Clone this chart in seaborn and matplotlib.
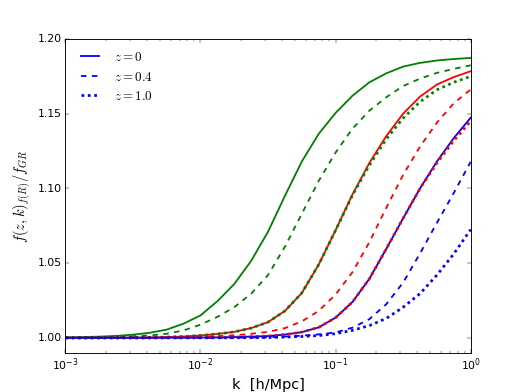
import numpy as np
import pandas as pd
import matplotlib
matplotlib.use("Agg")
import matplotlib.pyplot as plt
import seaborn as sns

plt.style.use("classic")
plt.rcParams['lines.scale_dashes'] = False
plt.rcParams['savefig.facecolor'] = 'white'

# log10 of k [h/Mpc]
logk = [-3.0, -2.875, -2.75, -2.625, -2.5, -2.375, -2.25, -2.125, -2.0,
        -1.875, -1.75, -1.625, -1.5, -1.375, -1.25, -1.125, -1.0,
        -0.875, -0.75, -0.625, -0.5, -0.375, -0.25, -0.125, 0.0]

green_z0 = [1.0003, 1.0005, 1.0008, 1.0013, 1.0021, 1.0034, 1.0055, 1.0095, 1.015,
            1.0245, 1.036, 1.0515, 1.071, 1.095, 1.118, 1.1365, 1.1505,
            1.162, 1.171, 1.177, 1.1815, 1.184, 1.1856, 1.1866, 1.1873]
green_z04 = [1.0001, 1.0002, 1.0004, 1.0007, 1.0011, 1.0016, 1.0027, 1.0050, 1.0088,
             1.014, 1.0205, 1.0295, 1.042, 1.061, 1.083, 1.105, 1.124,
             1.140, 1.152, 1.161, 1.1685, 1.1735, 1.1773, 1.180, 1.1824]
green_z10 = [1.0, 1.0, 1.0001, 1.0001, 1.0002, 1.0003, 1.0005, 1.0009, 1.0016,
             1.0026, 1.0040, 1.0065, 1.0105, 1.018, 1.030, 1.049, 1.072,
             1.0955, 1.1155, 1.133, 1.147, 1.158, 1.166, 1.171, 1.175]

red_z0 = [1.0, 1.0, 1.0001, 1.0001, 1.0002, 1.0003, 1.0005, 1.0009, 1.0016,
          1.0026, 1.0040, 1.0065, 1.0105, 1.018, 1.030, 1.049, 1.072,
          1.096, 1.117, 1.135, 1.150, 1.1614, 1.1695, 1.1745, 1.1784]
red_z04 = [1.0, 1.0, 1.0, 1.0, 1.0001, 1.0001, 1.0003, 1.0005, 1.0007,
           1.0011, 1.0017, 1.0027, 1.0040, 1.0065, 1.011, 1.018, 1.029,
           1.044, 1.064, 1.087, 1.109, 1.128, 1.144, 1.157, 1.1662]
red_z10 = [1.0, 1.0, 1.0, 1.0, 1.0, 1.0, 1.0001, 1.0001, 1.0002,
           1.0003, 1.0005, 1.0008, 1.0012, 1.0022, 1.0038, 1.007, 1.0135,
           1.024, 1.0395, 1.0595, 1.080, 1.100, 1.117, 1.132, 1.145]

blue_z0 = [1.0, 1.0, 1.0, 1.0, 1.0, 1.0, 1.0001, 1.0001, 1.0002,
           1.0003, 1.0005, 1.0008, 1.0012, 1.0022, 1.0038, 1.007, 1.0135,
           1.024, 1.0395, 1.0595, 1.080, 1.100, 1.118, 1.1337, 1.1473]
blue_z04 = [1.0, 1.0, 1.0, 1.0, 1.0, 1.0, 1.0, 1.0, 1.0,
            1.0, 1.0001, 1.0002, 1.0004, 1.0008, 1.0014, 1.0023, 1.0036,
            1.0068, 1.0125, 1.0225, 1.037, 1.0565, 1.077, 1.097, 1.1178]
blue_z10 = [1.0, 1.0, 1.0, 1.0, 1.0, 1.0, 1.0, 1.0, 1.0,
            1.0, 1.0, 1.0001, 1.0002, 1.0005, 1.0009, 1.0015, 1.0028,
            1.005, 1.0082, 1.013, 1.0205, 1.0296, 1.042, 1.0562, 1.0725]

df = pd.DataFrame({
    'k': 10 ** np.array(logk),
    'g0': green_z0, 'r0': red_z0, 'b0': blue_z0,
    'g04': green_z04, 'r04': red_z04, 'b04': blue_z04,
    'g10': green_z10, 'r10': red_z10, 'b10': blue_z10,
})

fig = plt.figure(figsize=(8, 6))
ax = fig.add_subplot(111)

styles = [('0', '-', 2.0, '$z=0$'),
          ('04', '--', 2.0, '$z=0.4$'),
          ('10', (0, (3, 4)), 3.0, '$z=1.0$')]
for key, ls, lw, lab in styles:
    for c in ['g', 'r', 'b']:
        sns.lineplot(data=df, x='k', y=c + key, color=c, linestyle=ls, linewidth=lw,
                     label=lab if c == 'b' else None, legend=False, ax=ax)

ax.set_xscale('log')
ax.set_xlim(1e-3, 1)
ax.set_ylim(0.99, 1.20)
ax.set_yticks([1.00, 1.05, 1.10, 1.15, 1.20])
ax.set_xlabel('k  [h/Mpc]', fontsize=16)
ax.set_ylabel('$f(z,k)_{f(R)}/f_{GR}$', fontsize=16)

handles = [l for l in ax.get_lines() if not l.get_label().startswith('_')]
ax.legend(handles=handles, labels=[h.get_label() for h in handles], loc='upper left', frameon=False)

fig.savefig('out.png', dpi=523 / 8)
